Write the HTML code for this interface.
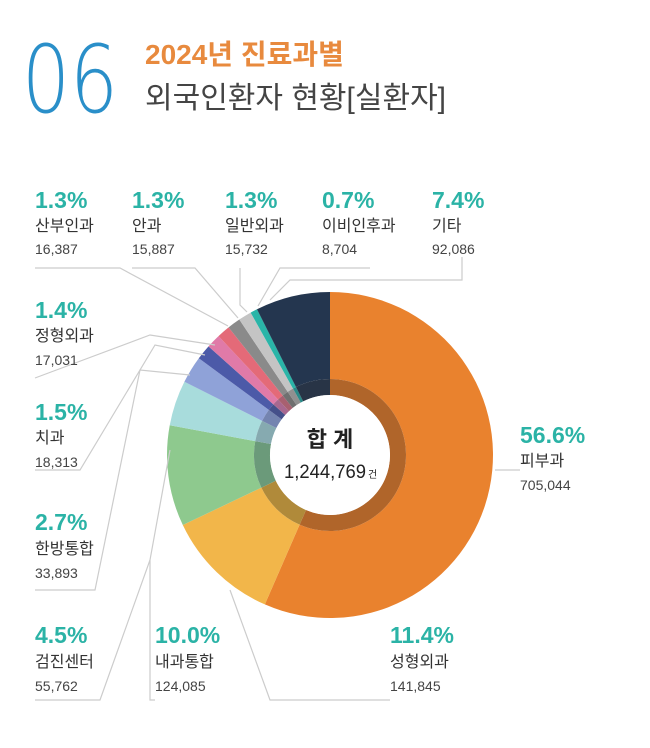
<!DOCTYPE html><html><head><meta charset="utf-8"><style>
body{margin:0;background:#fff;width:650px;height:743px;overflow:hidden}
svg text{font-family:"Liberation Sans","Noto Sans CJK KR",sans-serif}
.p{fill:#2bb3a6;font-size:23px;font-weight:bold}
.n{fill:#333;font-size:16px}
.v{fill:#444;font-size:14px}
</style></head><body>
<svg width="650" height="743" xmlns="http://www.w3.org/2000/svg">
<text x="22" y="112" font-size="94" fill="#2a8fc9" style="font-family:'DejaVu Sans ExtraLight','DejaVu Sans',sans-serif;font-weight:200" textLength="96" lengthAdjust="spacingAndGlyphs">06</text>
<text x="145" y="64" font-size="28" font-weight="bold" fill="#e88a3e">2024년 진료과별</text>
<text x="145" y="108" font-size="30" fill="#444">외국인환자 현황[실환자]</text>
<g id="pie"></g>
<g stroke="#ccc" stroke-width="1.2" fill="none">
<polyline points="35,268 120,268 228,326"/>
<polyline points="132,268 195,268 238,318"/>
<polyline points="240,268 240,305 247,312"/>
<polyline points="370,268 280,268 258,306"/>
<polyline points="462,257 462,280 290,280 270,300"/>
<polyline points="35,378 150,335 215,345"/>
<polyline points="35,470 80,470 155,345 205,355"/>
<polyline points="35,590 95,590 140,370 190,375"/>
<polyline points="35,700 100,700 150,560 170,450"/>
<polyline points="155,700 150,700 150,560"/>
<polyline points="390,700 270,700 230,590"/>
<polyline points="520,470 495,470"/>
</g>
<g>
<text class="p" x="35" y="208">1.3%</text><text class="n" x="35" y="231">산부인과</text><text class="v" x="35" y="254">16,387</text>
<text class="p" x="132" y="208">1.3%</text><text class="n" x="132" y="231">안과</text><text class="v" x="132" y="254">15,887</text>
<text class="p" x="225" y="208">1.3%</text><text class="n" x="225" y="231">일반외과</text><text class="v" x="225" y="254">15,732</text>
<text class="p" x="322" y="208">0.7%</text><text class="n" x="322" y="231">이비인후과</text><text class="v" x="322" y="254">8,704</text>
<text class="p" x="432" y="208">7.4%</text><text class="n" x="432" y="231">기타</text><text class="v" x="432" y="254">92,086</text>
<text class="p" x="35" y="318">1.4%</text><text class="n" x="35" y="341">정형외과</text><text class="v" x="35" y="365">17,031</text>
<text class="p" x="35" y="420">1.5%</text><text class="n" x="35" y="443">치과</text><text class="v" x="35" y="467">18,313</text>
<text class="p" x="35" y="530">2.7%</text><text class="n" x="35" y="554">한방통합</text><text class="v" x="35" y="578">33,893</text>
<text class="p" x="35" y="643">4.5%</text><text class="n" x="35" y="667">검진센터</text><text class="v" x="35" y="691">55,762</text>
<text class="p" x="155" y="643">10.0%</text><text class="n" x="155" y="667">내과통합</text><text class="v" x="155" y="691">124,085</text>
<text class="p" x="390" y="643">11.4%</text><text class="n" x="390" y="667">성형외과</text><text class="v" x="390" y="691">141,845</text>
<text class="p" x="520" y="443">56.6%</text><text class="n" x="520" y="466">피부과</text><text class="v" x="520" y="490">705,044</text>
</g>
</svg>
<script>
var cx=330,cy=455,R=163,r=76,ri=60;
var d=[[56.6,"#e9822e","#b0652a"],[11.4,"#f2b64a","#b08a3a"],[10.0,"#8ec98e","#6b9a7a"],[4.5,"#a8dcdc","#86aab0"],[2.7,"#8fa2d8","#7484b0"],[1.5,"#4c5aa8","#45508a"],[1.4,"#e07aa8","#a86890"],[1.3,"#e46a78","#a86070"],[1.3,"#8a8a8a","#707070"],[1.3,"#c4c4c4","#909090"],[0.7,"#2ab5a8","#2a8a88"],[7.4,"#24364f","#283446"]];
var tot=0;d.forEach(function(x){tot+=x[0]});
var a=0,s="";
function pt(ang,rad){var t=(ang-90)*Math.PI/180;return (cx+rad*Math.cos(t)).toFixed(2)+","+(cy+rad*Math.sin(t)).toFixed(2)}
d.forEach(function(x){var b=a+x[0]/tot*360,l=(b-a)>180?1:0;
s+='<path fill="'+x[1]+'" d="M'+pt(a,R)+' A'+R+','+R+' 0 '+l+' 1 '+pt(b,R)+' L'+pt(b,r)+' A'+r+','+r+' 0 '+l+' 0 '+pt(a,r)+'Z"/>';
s+='<path fill="'+x[2]+'" d="M'+pt(a,r)+' A'+r+','+r+' 0 '+l+' 1 '+pt(b,r)+' L'+pt(b,ri)+' A'+ri+','+ri+' 0 '+l+' 0 '+pt(a,ri)+'Z"/>';
a=b;});
s+='<circle cx="'+cx+'" cy="'+cy+'" r="'+ri+'" fill="#fff"/>';
s+='<text x="330" y="447" text-anchor="middle" font-size="22" font-weight="bold" fill="#222">합 계</text>';
s+='<text x="325" y="478" text-anchor="middle" font-size="19" fill="#222" textLength="82" lengthAdjust="spacingAndGlyphs">1,244,769</text><text x="368" y="478" font-size="10" fill="#222">건</text>';
document.getElementById("pie").innerHTML=s;
</script>
</body></html>
